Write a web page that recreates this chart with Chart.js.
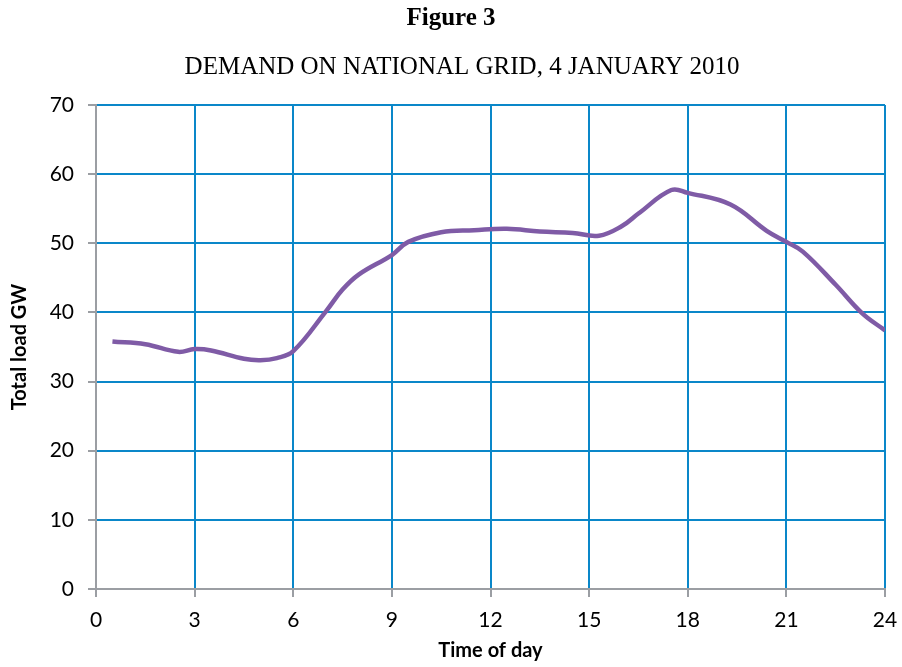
<!DOCTYPE html>
<html>
<head>
<meta charset="utf-8">
<style>
  html, body { margin: 0; padding: 0; background: #ffffff; }
  #wrap { width: 902px; height: 667px; position: relative; }
</style>
<script src="https://cdn.jsdelivr.net/npm/chart.js@4.4.1/dist/chart.umd.min.js"></script>
</head>
<body>
<div id="wrap"><canvas id="grid"></canvas></div>
<script>
// Half-hourly readings of total load on the grid (hour of day, GW)
const hours = [0.5, 1.5, 2.5, 3.0, 3.5, 4.5, 5.0, 5.5, 6.0, 7.0, 7.5, 8.0, 9.0, 9.5, 10.5, 11.5,
               12.5, 13.5, 14.5, 15.3, 16.0, 16.5, 17.5, 18.0, 19.3, 20.4, 21.0, 21.5, 22.5, 23.3, 24.0];
const loadGW = [35.8, 35.4, 34.3, 34.7, 34.5, 33.3, 33.1, 33.4, 34.4, 40.2, 43.3, 45.5, 48.3, 50.2, 51.6, 51.9,
                52.1, 51.7, 51.5, 51.1, 52.5, 54.3, 57.7, 57.3, 55.6, 51.8, 50.2, 48.8, 44.0, 39.9, 37.4];
const xTicks = [0, 3, 6, 9, 12, 15, 18, 21, 24];
const yTicks = [0, 10, 20, 30, 40, 50, 60, 70];

const figureTitle = 'Figure 3';
const figureSubtitle = 'DEMAND ON NATIONAL GRID, 4 JANUARY 2010';

const points = hours.map((h, i) => ({ x: h, y: loadGW[i] }));

const GRID_BLUE = '#0a87c9';
const AXIS_GREY = '#9b9ea3';
const SANS = 'Lato, "Open Sans", sans-serif';
const TICK_FONT = { family: SANS, size: 21 };

// Figure heading and caption above the plot
const headings = {
  id: 'headings',
  afterDraw(chart) {
    const ctx = chart.ctx;
    ctx.save();
    ctx.fillStyle = '#000';
    ctx.textAlign = 'center';
    ctx.textBaseline = 'middle';
    ctx.font = 'bold 25px "Liberation Serif", "Times New Roman", serif';
    ctx.fillText(figureTitle, 451, 19);
    ctx.font = '25px "Liberation Serif", "Times New Roman", serif';
    ctx.fillText(figureSubtitle, 462, 67);
    ctx.restore();
  }
};

new Chart(document.getElementById('grid'), {
  type: 'line',
  data: {
    datasets: [{
      data: points,
      borderColor: '#7f5ba6',
      borderWidth: 4.5,
      pointRadius: 0,
      tension: 0.4,
      fill: false
    }]
  },
  options: {
    responsive: true,
    maintainAspectRatio: false,
    animation: false,
    layout: { padding: { top: 105, right: 17, bottom: 4, left: 0 } },
    plugins: { legend: { display: false }, tooltip: { enabled: false }, title: { display: false } },
    scales: {
      x: {
        type: 'linear',
        min: 0, max: 24,
        afterBuildTicks(scale) { scale.ticks = xTicks.map(v => ({ value: v })); },
        afterFit(scale) { scale.height = 74; scale.paddingLeft = 0; scale.paddingRight = 0; },
        ticks: { color: '#000', font: TICK_FONT, padding: 11, maxRotation: 0, autoSkip: false },
        grid: { color: GRID_BLUE, lineWidth: 2, tickColor: AXIS_GREY, tickLength: 8, drawTicks: true },
        border: { color: AXIS_GREY, width: 2 },
        title: {
          display: true, text: 'Time of day', color: '#000',
          font: { family: SANS, size: 20, weight: 'bold' },
          padding: { top: 8, bottom: 0 }
        }
      },
      y: {
        type: 'linear',
        min: 0, max: 70,
        afterBuildTicks(scale) { scale.ticks = yTicks.map(v => ({ value: v })); },
        afterFit(scale) { scale.width = 96; scale.paddingTop = 0; scale.paddingBottom = 0; },
        ticks: { color: '#000', font: TICK_FONT, padding: 14 },
        grid: { color: GRID_BLUE, lineWidth: 2, tickColor: AXIS_GREY, tickLength: 8, drawTicks: true },
        border: { color: AXIS_GREY, width: 2 },
        title: {
          display: true, text: 'Total load GW', color: '#000',
          font: { family: SANS, size: 20, weight: 'bold' },
          padding: { top: 8, bottom: 0 }
        }
      }
    }
  },
  plugins: [headings]
});
</script>
</body>
</html>
